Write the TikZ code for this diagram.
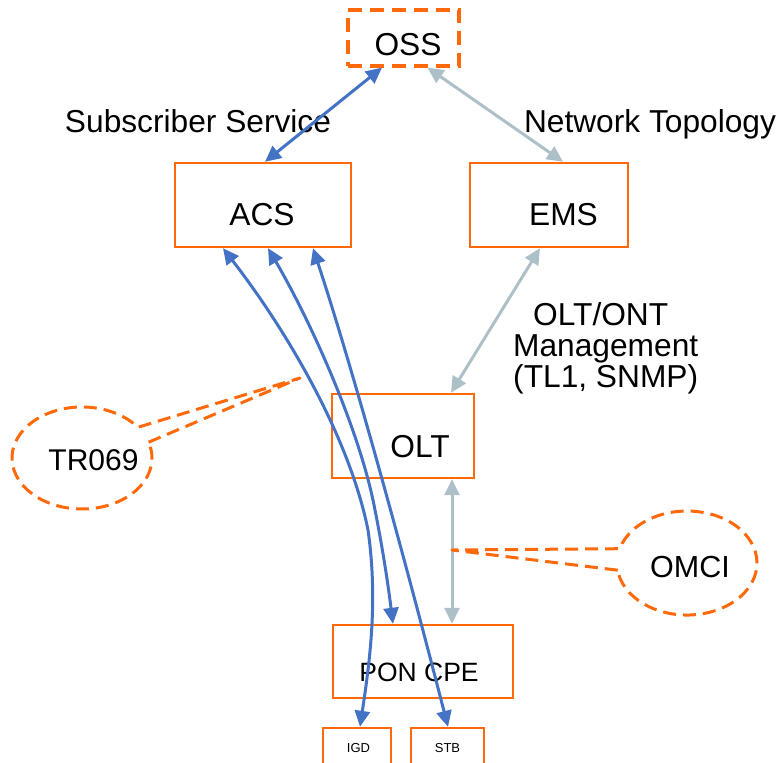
\documentclass[tikz,border=0pt]{standalone}
\usepackage{fontspec}
\setmainfont{Liberation Sans}
\usetikzlibrary{arrows.meta,calc}
\definecolor{org}{RGB}{255,105,10}
\definecolor{blu}{RGB}{68,114,196}
\definecolor{gry}{RGB}{174,192,199}
\begin{document}
\begin{tikzpicture}[x=1pt,y=1pt,
  box/.style={draw=org, line width=2.4pt, inner sep=0pt, fill=none},
  big/.style={font=\fontsize{31.7}{34}\selectfont, inner sep=0pt, anchor=base},
  mid/.style={font=\fontsize{26.5}{30}\selectfont, inner sep=0pt, anchor=base},
  small/.style={font=\fontsize{13}{15}\selectfont, inner sep=0pt, anchor=base},
  tipb/.style={{Triangle[length=16pt,width=15pt]}-{Triangle[length=16pt,width=15pt]}},
  bluarr/.style={draw=blu, line width=3pt, tipb},
  gryarr/.style={draw=gry, line width=3pt, tipb},
  callout/.style={draw=org, line width=3pt, dash pattern=on 13pt off 7pt, line join=round}]
\useasboundingbox (0,0) rectangle (782,-763);
% boxes
\node[box, dash pattern=on 14pt off 8pt, line width=3.2pt, minimum width=111pt, minimum height=56pt] (oss) at (403.5,-38) {};
\node[box, minimum width=176pt, minimum height=84pt] (acs) at (263,-205) {};
\node[box, minimum width=158pt, minimum height=84pt] (ems) at (549,-205) {};
\node[box, minimum width=142pt, minimum height=84pt] (olt) at (403,-436) {};
\node[box, minimum width=180pt, minimum height=73pt] (pon) at (423,-661.5) {};
\node[box, minimum width=68pt, minimum height=40pt] (igd) at (357,-748) {};
\node[box, minimum width=73pt, minimum height=40pt] (stb) at (447.5,-748) {};
% texts
\node[big] (osst) at (408,-55) {OSS};
\node[big] (acst) at (262,-225) {ACS};
\node[big] (emst) at (563.5,-225) {EMS};
\node[big] (oltt) at (420,-457) {OLT};
\node[mid] (pont) at (419,-681) {PON CPE};
\node[small] (igdt) at (358.5,-752) {IGD};
\node[small] (stbt) at (447.5,-752) {STB};
\node[big] (subs) at (198,-132) {Subscriber Service};
\node[big] (netw) at (650,-132) {Network Topology};
\node[big, anchor=base west] (mg1) at (533,-325) {OLT/ONT};
\node[big, anchor=base west] (mg2) at (513,-356) {Management};
\node[big, anchor=base west] (mg3) at (513,-387) {(TL1, SNMP)};
% connectors
\draw[bluarr] ($(acs.north)+(2,0)$) -- ($(oss.south)+(-21.5,0)$);
\draw[gryarr] ($(oss.south)+(24,0)$) -- ($(ems.north)+(14,0)$);
\draw[gryarr] ($(ems.south)+(-9,0)$) -- ($(olt.north)+(48,0)$);
\draw[gryarr] ($(olt.south)+(49,0)$) -- ($(pon.north)+(29,0)$);
\draw[bluarr] ($(acs.south)+(-40,0)$) .. controls (290,-335) and (350,-440) .. (368,-530)
   .. controls (378,-600) and (370,-660) .. ($(igd.north)+(3,0)$);
\draw[bluarr] ($(acs.south)+(5,0)$) .. controls (310,-320) and (360,-430) .. (375,-510)
   .. controls (385,-560) and (390,-600) .. ($(pon.north)+(-30,0)$);
\draw[bluarr] ($(acs.south)+(50,0)$) .. controls (350,-360) and (400,-540) .. ($(stb.north)+(0.5,0)$);
% callouts
\draw[callout] (148.6,-442.2) -- (300,-378) -- (137.9,-427.3)
   arc[start angle=37, end angle=378, x radius=70pt, y radius=51pt];
\node[big, font=\fontsize{30}{32}\selectfont] (tr) at (93.5,-470) {TR069};
\draw[callout] (617.7,-570.2) -- (452,-550) -- (619.7,-548.7)
   arc[start angle=164, end angle=-172, x radius=70pt, y radius=52pt];
\node[big, font=\fontsize{30.5}{32}\selectfont] (omci) at (690,-577) {OMCI};
\end{tikzpicture}
\end{document}
